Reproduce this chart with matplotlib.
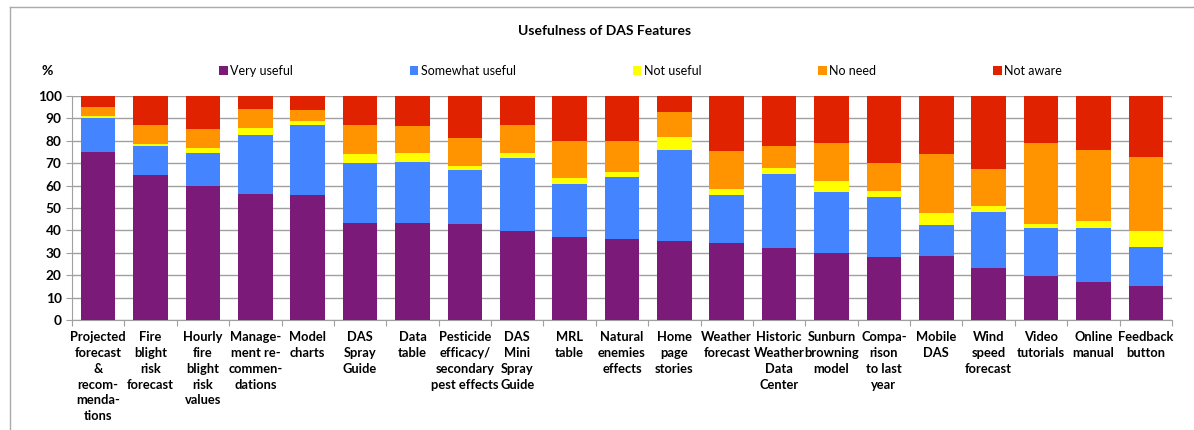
import matplotlib
matplotlib.use("Agg")
import matplotlib.pyplot as plt
from matplotlib.lines import Line2D
import numpy as np

plt.rcParams['font.family'] = ['Lato', 'DejaVu Sans']

features = ["Projected\nforecast\n&\nrecom-\nmenda-\ntions", "Fire\nblight\nrisk\nforecast",
            "Hourly\nfire\nblight\nrisk\nvalues", "Manage-\nment re-\ncommen-\ndations",
            "Model\ncharts", "DAS\nSpray\nGuide", "Data\ntable",
            "Pesticide\nefficacy/\nsecondary\npest effects", "DAS\nMini\nSpray\nGuide",
            "MRL\ntable", "Natural\nenemies\neffects", "Home\npage\nstories",
            "Weather\nforecast", "Historic\nWeather\nData\nCenter", "Sunburn\nbrowning\nmodel",
            "Compa-\nrison\nto last\nyear", "Mobile\nDAS", "Wind\nspeed\nforecast",
            "Video\ntutorials", "Online\nmanual", "Feedback\nbutton"]

very_useful = [74.8, 64.6, 59.9, 56.1, 55.7, 43.3, 43.3, 42.8, 39.9, 37.0, 36.1,
               35.1, 34.2, 32.1, 30.0, 28.1, 28.5, 23.4, 19.6, 16.9, 15.4]
somewhat_useful = [15.6, 13.0, 14.6, 26.6, 31.2, 26.8, 27.4, 24.3, 32.5, 23.7, 27.6,
                   40.9, 21.6, 33.1, 27.2, 26.8, 13.9, 24.8, 21.3, 24.1, 17.4]
not_useful = [0.8, 0.9, 2.1, 3.1, 1.9, 3.8, 3.9, 1.7, 2.2, 2.6, 2.4,
              5.6, 2.7, 2.7, 4.9, 2.7, 5.4, 2.7, 2.1, 3.0, 6.9]
no_need = [4.0, 8.7, 8.6, 8.4, 4.9, 13.0, 12.0, 12.4, 12.3, 16.7, 13.8,
           11.4, 16.9, 10.0, 16.7, 12.5, 26.2, 16.6, 36.0, 31.8, 33.0]
not_aware = [4.8, 12.8, 14.8, 5.8, 6.3, 13.1, 13.4, 18.7, 13.1, 20.0, 20.1,
             7.0, 24.6, 22.1, 21.2, 29.9, 26.0, 32.5, 21.0, 24.2, 27.3]

series = [("Very useful", very_useful, "#7B1A78"),
          ("Somewhat useful", somewhat_useful, "#4484FF"),
          ("Not useful", not_useful, "#FFFF00"),
          ("No need", no_need, "#FF9400"),
          ("Not aware", not_aware, "#E02200")]

fig = plt.figure(figsize=(11.94, 4.30), dpi=100)
ax = fig.add_axes([72/1194, 1-320/430, 1100/1194, 224/430])

x = np.arange(len(features))
bottom = np.zeros(len(features))
handles = []
for name, vals, col in series:
    b = ax.bar(x, vals, 0.66, bottom=bottom, color=col, label=name, zorder=3)
    handles.append(b)
    bottom += np.array(vals)

ax.set_xlim(-0.5, len(features) - 0.5)
ax.set_ylim(0, 100)
ax.set_yticks(np.arange(0, 101, 10))
ax.grid(axis='y', color='#a0a0a0', lw=1, zorder=0)
for s in ['top', 'right']:
    ax.spines[s].set_visible(False)
for s in ['left', 'bottom']:
    ax.spines[s].set_color('#a0a0a0')
ax.set_xticks(np.arange(-0.5, len(features), 1))
ax.set_xticklabels([])
ax.set_xticks(x, minor=True)
ax.set_xticklabels(features, minor=True, fontsize=9.3, fontweight='bold', linespacing=1.38, va='top')
ax.tick_params(axis='x', which='minor', length=0, pad=8)
ax.tick_params(axis='x', which='major', length=4, color='#a0a0a0')
ax.tick_params(axis='y', length=4, color='#a0a0a0', labelsize=9.8)
for t in ax.get_yticklabels():
    t.set_fontweight('bold')

fig.text(605/1194, 1-31/430, "Usefulness of DAS Features", ha='center', va='center',
         fontsize=10, fontweight='bold')
fig.text(47/1194, 1-71/430, "%", ha='center', va='center', fontsize=10, fontweight='bold')

fig.legend(handles=handles, loc='center', ncol=5, mode='expand',
           bbox_to_anchor=(219/1194, 1-80/430, (1062-219)/1194, 18/430),
           frameon=False, fontsize=9, handlelength=0.7, handleheight=0.7,
           handletextpad=0.2, borderaxespad=0, borderpad=0)

fig.add_artist(Line2D([10/1194, 10/1194], [0, 1-7/430], color='#aaaaaa', lw=1))
fig.add_artist(Line2D([10/1194, 1], [1-7/430, 1-7/430], color='#aaaaaa', lw=1))

fig.savefig("out.png", dpi=100)
